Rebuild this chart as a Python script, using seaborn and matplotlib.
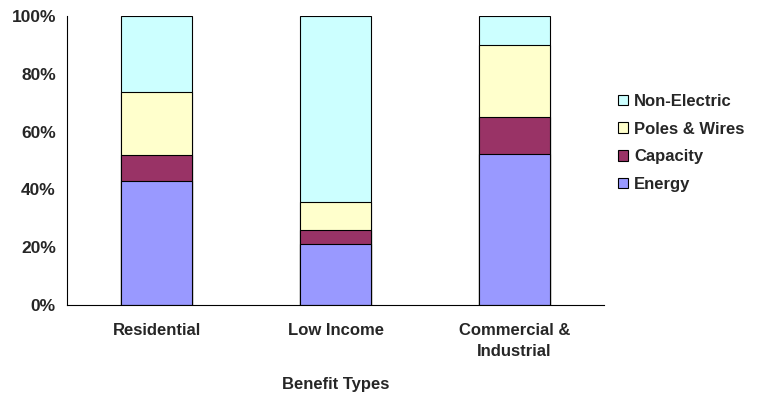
import matplotlib
matplotlib.use("Agg")
import matplotlib.pyplot as plt
import seaborn as sns
import numpy as np
import pandas as pd
from matplotlib.patches import Patch
from matplotlib.ticker import FuncFormatter

categories = ["Residential", "Low Income", "Commercial &\nIndustrial"]
energy = [43.0, 21.1, 52.1]
capacity = [8.8, 4.7, 12.8]
poles_wires = [21.8, 9.7, 25.1]
non_electric = [26.4, 64.5, 10.0]
yticks = [0, 20, 40, 60, 80, 100]

series = [("Energy", energy, "#9999FF"),
          ("Capacity", capacity, "#993366"),
          ("Poles & Wires", poles_wires, "#FFFFCC"),
          ("Non-Electric", non_electric, "#CCFFFF")]

sns.set_style("white")
plt.rcParams['font.family'] = ['Liberation Sans', 'DejaVu Sans']
plt.rcParams['font.weight'] = 'bold'

FS = 12

fig = plt.figure(figsize=(7.58, 3.94), dpi=100)
ax = fig.add_axes([67/758, 1-305/394, (604-67)/758, (305-16)/394])

cum = np.cumsum([s[1] for s in series], axis=0)
for i in range(len(series)-1, -1, -1):
    df = pd.DataFrame({"cat": categories, "val": cum[i]})
    sns.barplot(data=df, x="cat", y="val", color=series[i][2], width=0.4,
                edgecolor="black", linewidth=0.8, ax=ax, saturation=1, zorder=2)

ax.set_xlim(-0.5, 2.5)
ax.set_ylim(0, 100)
ax.set_yticks(yticks)
ax.yaxis.set_major_formatter(FuncFormatter(lambda v, p: f"{int(v)}%"))
ax.set_xticks([0, 1, 2])
ax.set_xticklabels(categories, fontsize=FS, fontweight='bold', linespacing=1.5)
ax.set_xticks([-0.5, 0.5, 1.5, 2.5], minor=True)
ax.tick_params(axis='x', which='major', length=0, pad=13)
ax.tick_params(axis='x', which='minor', length=5, width=0.8, direction='out', color='black')
ax.tick_params(axis='y', length=5, width=0.8, direction='out', color='black', labelsize=12.5, pad=3)
for lbl in ax.get_yticklabels():
    lbl.set_fontweight('bold')
ax.set_ylabel("")
ax.set_xlabel("Benefit Types", fontsize=FS, fontweight='bold', labelpad=13)
for s in ['top', 'right']:
    ax.spines[s].set_visible(False)
for s in ['left', 'bottom']:
    ax.spines[s].set_color('black')
    ax.spines[s].set_linewidth(0.8)

handles = [Patch(facecolor=c, edgecolor='black', linewidth=0.8, label=n) for n, _, c in reversed(series)]
leg = ax.legend(handles=handles, loc='center left', bbox_to_anchor=(603/758, 1-143/394),
                bbox_transform=fig.transFigure, frameon=False,
                handlelength=0.6, handleheight=0.6, handletextpad=0.36, labelspacing=0.76,
                prop={'weight': 'bold', 'size': FS})

fig.savefig("out.png", dpi=100)
